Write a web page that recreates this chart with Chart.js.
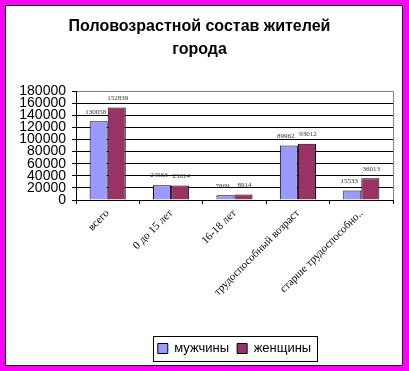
<!DOCTYPE html>
<html>
<head>
<meta charset="utf-8">
<script src="https://cdn.jsdelivr.net/npm/chart.js@4"></script>
<style>
  html, body { margin: 0; padding: 0; background: #ff00ff; width: 409px; height: 371px; overflow: hidden; }
  #box { position: absolute; left: 5px; top: 5px; width: 396px; height: 359px; border: 1px solid #000; background: #fff; }
</style>
</head>
<body>
<div id="box"><canvas id="myChart"></canvas></div>
<script>
const categories = ['всего', '0 до 15 лет', '16-18 лет', 'трудоспособный возраст', 'старше трудоспособно..'];
const men = [130058, 24563, 7869, 89962, 15533];
const women = [152839, 23814, 8914, 93012, 36013];
const seriesNames = ['мужчины', 'женщины'];

// value labels above the bars
const valueLabels = {
    id: 'valueLabels',
    afterDatasetsDraw(chart) {
        const ctx = chart.ctx;
        ctx.save();
        ctx.font = '7px "Liberation Serif"';
        ctx.fillStyle = '#333';
        ctx.textAlign = 'center';
        ctx.textBaseline = 'bottom';
        chart.data.datasets.forEach((ds, i) => {
            const shift = i === 0 ? -3 : 1;
            chart.getDatasetMeta(i).data.forEach((bar, j) => {
                ctx.fillText(String(ds.data[j]), bar.x + shift, bar.y - 6);
            });
        });
        ctx.restore();
    }
};

// plot frame on the right and a box round the legend
const frames = {
    id: 'frames',
    afterDraw(chart) {
        const ctx = chart.ctx;
        const a = chart.chartArea;
        ctx.save();
        ctx.strokeStyle = '#808080';
        ctx.lineWidth = 1;
        ctx.beginPath();
        ctx.moveTo(Math.round(a.right) + 0.5, a.top);
        ctx.lineTo(Math.round(a.right) + 0.5, a.bottom);
        ctx.stroke();

        const hb = chart.legend.legendHitBoxes;
        if (hb && hb.length) {
            const l = Math.min(...hb.map(b => b.left)) - 5;
            const r = Math.max(...hb.map(b => b.left + b.width)) + 6;
            const t = Math.min(...hb.map(b => b.top)) - 6;
            const bt = Math.max(...hb.map(b => b.top + b.height)) + 6;
            ctx.strokeStyle = '#000';
            ctx.strokeRect(Math.round(l) + 0.5, Math.round(t) + 0.5, Math.round(r - l), Math.round(bt - t));
        }
        ctx.restore();
    }
};

const data = {
    labels: categories,
    datasets: [
        {
            label: seriesNames[0],
            data: men,
            backgroundColor: '#9999ff',
            borderColor: '#000',
            borderWidth: 1
        },
        {
            label: seriesNames[1],
            data: women,
            backgroundColor: '#993366',
            borderColor: '#000',
            borderWidth: 1
        }
    ]
};

const options = {
    responsive: true,
    maintainAspectRatio: false,
    animation: false,
    layout: {
        padding: { left: 0, right: 9, top: 0, bottom: 0 }
    },
    datasets: {
        bar: { categoryPercentage: 0.57, barPercentage: 1 }
    },
    scales: {
        x: {
            afterFit(scale) { scale.height = 134; },
            grid: {
                offset: true,
                drawOnChartArea: false,
                drawTicks: true,
                tickLength: 4,
                color: '#000'
            },
            border: { color: '#000' },
            ticks: {
                autoSkip: false,
                maxRotation: 45,
                minRotation: 45,
                color: '#000',
                font: { family: '"Liberation Serif"', size: 11 }
            }
        },
        y: {
            min: 0,
            max: 180000,
            afterFit(scale) { scale.width = 70; },
            grid: {
                color: (c) => c.tick && c.tick.value === 180000 ? '#808080' : '#000',
                tickColor: '#000',
                tickLength: 4
            },
            border: { color: '#000' },
            ticks: {
                stepSize: 20000,
                autoSkip: false,
                padding: 6,
                color: '#000',
                font: { family: '"Liberation Sans"', size: 14 },
                callback: (v) => String(v)
            }
        }
    },
    plugins: {
        title: {
            display: true,
            text: ['Половозрастной состав жителей', 'города'],
            color: '#000',
            font: { family: '"Liberation Sans"', size: 16, weight: 'bold', lineHeight: 1.38 },
            padding: { top: 10, bottom: 31 }
        },
        legend: {
            position: 'bottom',
            fullSize: false,
            labels: {
                color: '#000',
                boxWidth: 10,
                boxHeight: 10,
                padding: 8,
                font: { family: '"Liberation Sans"', size: 13 }
            }
        },
        tooltip: { enabled: false }
    }
};

const myChart = new Chart(
    document.getElementById('myChart'),
    { type: 'bar', data, options, plugins: [valueLabels, frames] }
);
</script>
</body>
</html>
